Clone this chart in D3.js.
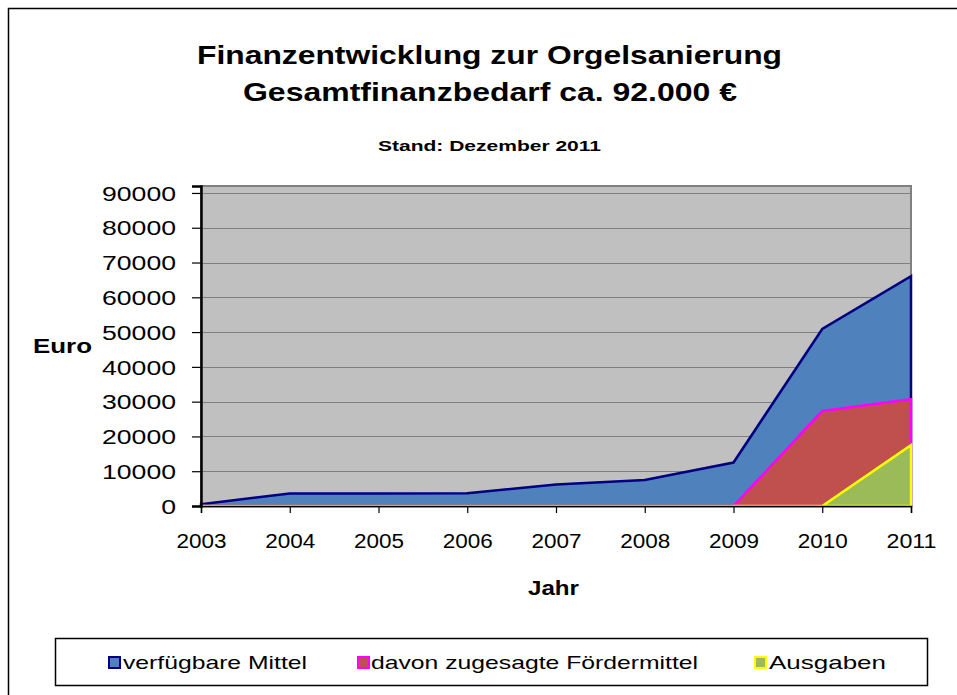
<!DOCTYPE html>
<html lang="de">
<head>
<meta charset="UTF-8">
<title>Finanzentwicklung zur Orgelsanierung</title>
<script src="https://d3js.org/d3.v7.min.js"></script>
<style>
  body { margin: 0; background: #fff; }
  svg { display: block; font-family: "Liberation Sans", Arial, sans-serif; }
  .axis path, .axis line { stroke: #000; }
  .axis text { fill: #000; font-size: 20px; }
</style>
</head>
<body>
<div id="chart"></div>
<script>
  // data
  const years = [2003, 2004, 2005, 2006, 2007, 2008, 2009, 2010, 2011];
  const verfuegbar = [500, 3600, 3600, 3700, 6200, 7500, 12500, 50900, 66100];
  const foerder = [0, 0, 0, 0, 0, 0, 0, 27300, 30700];
  const ausgaben = [0, 0, 0, 0, 0, 0, 0, 0, 17500];
  const yTicks = [0, 10000, 20000, 30000, 40000, 50000, 60000, 70000, 80000, 90000];
  const seriesNames = ["verfügbare Mittel", "davon zugesagte Fördermittel", "Ausgaben"];

  const width = 957, height = 695;
  const plot = { left: 201, right: 911, top: 186, bottom: 506 };

  const svg = d3.select("#chart").append("svg")
      .attr("width", width)
      .attr("height", height);

  // outer chart border
  svg.append("rect")
      .attr("x", 8.5).attr("y", 8.5)
      .attr("width", 960).attr("height", 700)
      .attr("fill", "#fff").attr("stroke", "#000").attr("stroke-width", 1.5);

  // titles
  svg.append("text")
      .attr("x", 489.5).attr("y", 64)
      .attr("text-anchor", "middle")
      .attr("font-size", 26).attr("font-weight", "bold")
      .attr("textLength", 585).attr("lengthAdjust", "spacingAndGlyphs")
      .text("Finanzentwicklung zur Orgelsanierung");
  svg.append("text")
      .attr("x", 490).attr("y", 101)
      .attr("text-anchor", "middle")
      .attr("font-size", 26).attr("font-weight", "bold")
      .attr("textLength", 494).attr("lengthAdjust", "spacingAndGlyphs")
      .text("Gesamtfinanzbedarf ca. 92.000 €");
  svg.append("text")
      .attr("x", 489.5).attr("y", 151)
      .attr("text-anchor", "middle")
      .attr("font-size", 15).attr("font-weight", "bold")
      .attr("textLength", 223).attr("lengthAdjust", "spacingAndGlyphs")
      .text("Stand: Dezember 2011");

  const x = d3.scaleLinear()
      .domain([d3.min(years), d3.max(years)])
      .range([plot.left, plot.right]);
  const y = d3.scaleLinear()
      .domain([0, 92000])
      .range([plot.bottom, plot.top]);

  // plot background
  svg.append("rect")
      .attr("x", plot.left).attr("y", plot.top)
      .attr("width", plot.right - plot.left)
      .attr("height", plot.bottom - plot.top)
      .attr("fill", "#c0c0c0")
      .attr("stroke", "#808080").attr("stroke-width", 2);

  // gridlines
  svg.append("g").selectAll("line")
      .data(yTicks.filter(d => d > 0))
      .enter().append("line")
      .attr("x1", plot.left).attr("x2", plot.right)
      .attr("y1", d => Math.round(y(d)) + 0.5)
      .attr("y2", d => Math.round(y(d)) + 0.5)
      .attr("stroke", "#808080").attr("stroke-width", 1.2);

  // areas, drawn in order so later series sit on top
  const series = [
    { name: seriesNames[0], values: verfuegbar, fill: "#4f81bd", stroke: "#000080" },
    { name: seriesNames[1], values: foerder, fill: "#c0504d", stroke: "#ff00ff" },
    { name: seriesNames[2], values: ausgaben, fill: "#9bbb59", stroke: "#ffff00" }
  ];

  const area = d3.area()
      .x(d => x(d[0]))
      .y0(y(0))
      .y1(d => y(d[1]));

  series.forEach(s => {
    const pts = years.map((yr, i) => [yr, s.values[i]]);
    svg.append("path")
        .datum(pts)
        .attr("d", d => area(d) )
        .attr("fill", s.fill)
        .attr("stroke", s.stroke)
        .attr("stroke-width", 2.5)
        .attr("stroke-linejoin", "miter");
  });

  // axes
  const yAxis = svg.append("g")
      .attr("class", "axis")
      .attr("transform", `translate(${plot.left},0)`)
      .call(d3.axisLeft(y).tickValues(yTicks).tickSize(9).tickPadding(16).tickFormat(d3.format("d")));
  yAxis.select(".domain").attr("stroke-width", 2.5);
  yAxis.selectAll(".tick line").attr("stroke-width", 1.2);
  yAxis.selectAll("text")
      .attr("dy", "0.36em")
      .attr("x", -25)
      .attr("textLength", d => String(d).length * 14.8)
      .attr("lengthAdjust", "spacingAndGlyphs");

  const xAxis = svg.append("g")
      .attr("class", "axis")
      .attr("transform", `translate(0,${plot.bottom})`)
      .call(d3.axisBottom(x).tickValues(years).tickSize(7).tickPadding(10).tickFormat(d3.format("d")));
  xAxis.select(".domain").attr("stroke-width", 1.5);
  xAxis.selectAll(".tick line").attr("stroke-width", 1.2);
  xAxis.selectAll("text")
      .attr("y", 42).attr("dy", 0)
      .attr("textLength", 50)
      .attr("lengthAdjust", "spacingAndGlyphs");

  // axis titles
  svg.append("text")
      .attr("x", 33).attr("y", 353)
      .attr("font-size", 21).attr("font-weight", "bold")
      .attr("textLength", 59).attr("lengthAdjust", "spacingAndGlyphs")
      .text("Euro");
  svg.append("text")
      .attr("x", 528).attr("y", 595)
      .attr("font-size", 21).attr("font-weight", "bold")
      .attr("textLength", 51).attr("lengthAdjust", "spacingAndGlyphs")
      .text("Jahr");

  // legend
  svg.append("rect")
      .attr("x", 55.5).attr("y", 638.5)
      .attr("width", 872).attr("height", 47)
      .attr("fill", "#fff").attr("stroke", "#000").attr("stroke-width", 1.5);

  const legendPos = [
    { mx: 108, tx: 123, tw: 184 },
    { mx: 357, tx: 371, tw: 327 },
    { mx: 754, tx: 769, tw: 117 }
  ];
  const legend = svg.append("g").selectAll("g")
      .data(series)
      .enter().append("g");
  legend.append("rect")
      .attr("x", (d, i) => legendPos[i].mx + 1)
      .attr("y", 657)
      .attr("width", 11).attr("height", 11)
      .attr("fill", d => d.fill)
      .attr("stroke", d => d.stroke)
      .attr("stroke-width", 2);
  legend.append("text")
      .attr("x", (d, i) => legendPos[i].tx)
      .attr("y", 669)
      .attr("font-size", 19)
      .attr("textLength", (d, i) => legendPos[i].tw)
      .attr("lengthAdjust", "spacingAndGlyphs")
      .text(d => d.name);
</script>
</body>
</html>
